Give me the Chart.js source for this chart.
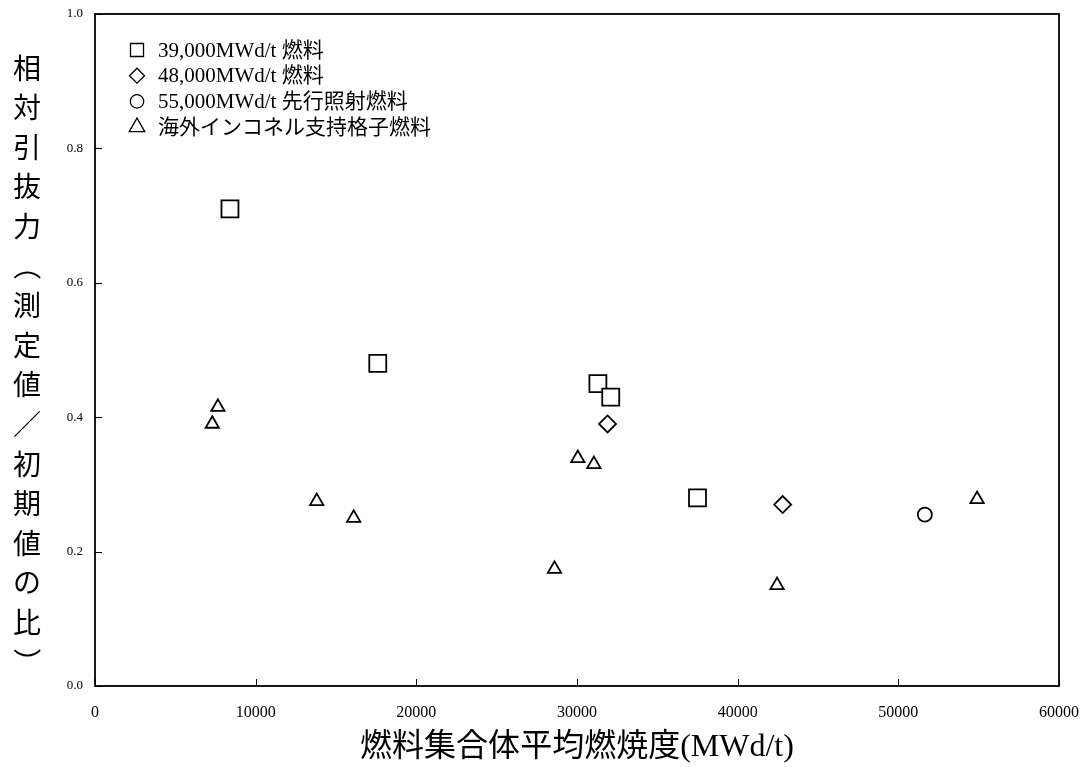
<!DOCTYPE html>
<html>
<head>
<meta charset="utf-8">
<script src="https://cdn.jsdelivr.net/npm/chart.js@4/dist/chart.umd.min.js"></script>
<style>
  body { margin: 0; background: #fff; }
  #wrap { width: 1088px; height: 767px; }
</style>
</head>
<body>
<div id="wrap"><canvas id="chart"></canvas></div>
<script>
// series labels (legend)
const seriesNames = ['39,000MWd/t 燃料', '48,000MWd/t 燃料', '55,000MWd/t 先行照射燃料', '海外インコネル支持格子燃料'];

// burnup (MWd/t) and relative pull-out force for each group
const burnup39 = [8400, 17600, 31300, 32100, 37500];
const force39 = [0.71, 0.48, 0.45, 0.43, 0.28];
const burnup48 = [31900, 42800];
const force48 = [0.39, 0.27];
const burnup55 = [51650];
const force55 = [0.255];
const burnupOverseas = [7650, 7300, 13800, 16100, 28600, 30050, 31050, 42450, 54900];
const forceOverseas = [0.415, 0.39, 0.275, 0.25, 0.174, 0.339, 0.33, 0.15, 0.278];

const xTicks = [0, 10000, 20000, 30000, 40000, 50000, 60000];
const yTicks = [0, 0.2, 0.4, 0.6, 0.8, 1.0];

const xTitle = '燃料集合体平均燃焼度(MWd/t)';
const yTitle = '相対引抜力（測定値／初期値の比）';

const serif = '"Liberation Serif", "DejaVu Serif", "Noto Sans CJK JP", serif';
const cjk = '"Noto Sans CJK JP", sans-serif';

function toPoints(xs, ys) {
  return xs.map((v, i) => ({ x: v, y: ys[i] }));
}

const markers = [
  { style: 'rect', r: 12, legendR: 9.2 },
  { style: 'rectRot', r: 8.5, legendR: 7.5 },
  { style: 'circle', r: 7, legendR: 6.7 },
  { style: 'triangle', r: 7.7, legendR: 9 }
];

const groups = [
  toPoints(burnup39, force39),
  toPoints(burnup48, force48),
  toPoints(burnup55, force55),
  toPoints(burnupOverseas, forceOverseas)
];

// box, inward tick marks, vertical y title and legend inside the plot
const extras = {
  id: 'extras',
  afterDraw(chart) {
    const { ctx, chartArea: a, scales: { x, y } } = chart;
    ctx.save();
    ctx.strokeStyle = '#000';
    ctx.lineWidth = 1.8;
    ctx.strokeRect(a.left, a.top, a.right - a.left, a.bottom - a.top);

    ctx.lineWidth = 1;
    ctx.beginPath();
    x.ticks.forEach(t => {
      const px = Math.round(x.getPixelForValue(t.value)) + 0.5;
      ctx.moveTo(px, a.bottom);
      ctx.lineTo(px, a.bottom - 7);
    });
    y.ticks.forEach(t => {
      const py = Math.round(y.getPixelForValue(t.value)) + 0.5;
      ctx.moveTo(a.left, py);
      ctx.lineTo(a.left + 7, py);
    });
    ctx.stroke();

    // vertical y title, one character per line
    ctx.fillStyle = '#000';
    ctx.font = '28px ' + cjk;
    ctx.textAlign = 'center';
    ctx.textBaseline = 'middle';
    Array.from(yTitle).forEach((ch, i) => {
      const cy = 68 + i * 39.6;
      if (ch === '（' || ch === '）') {
        ctx.save();
        ctx.translate(27, cy);
        ctx.rotate(Math.PI / 2);
        ctx.fillText(ch, 0, 0);
        ctx.restore();
      } else {
        ctx.fillText(ch, 27, cy);
      }
    });

    // legend
    ctx.font = '21px ' + serif;
    ctx.textAlign = 'left';
    chart.data.datasets.forEach((ds, i) => {
      const cy = 50 + i * 25.7;
      ctx.fillStyle = '#fff';
      ctx.strokeStyle = '#000';
      ctx.lineWidth = 1.3;
      Chart.helpers.drawPoint(ctx, {
        pointStyle: ds.pointStyle,
        radius: markers[i].legendR,
        borderWidth: 1.3,
        rotation: 0
      }, 137, cy);
      ctx.fillStyle = '#000';
      ctx.fillText(ds.label, 158, cy + 1);
    });
    ctx.restore();
  }
};

new Chart(document.getElementById('chart'), {
  type: 'scatter',
  data: {
    datasets: groups.map((pts, i) => ({
      label: seriesNames[i],
      data: pts,
      pointStyle: markers[i].style,
      pointRadius: markers[i].r,
      pointBorderWidth: 1.8,
      pointBorderColor: '#000',
      pointBackgroundColor: '#fff',
      showLine: false
    }))
  },
  options: {
    responsive: true,
    maintainAspectRatio: false,
    animation: false,
    events: [],
    layout: { padding: { top: 14, right: 29, left: 0, bottom: 0 } },
    plugins: {
      legend: { display: false },
      tooltip: { enabled: false }
    },
    scales: {
      x: {
        type: 'linear',
        min: 0,
        max: 60000,
        afterBuildTicks: s => { s.ticks = xTicks.map(v => ({ value: v })); },
        afterFit: s => { s.height = 81; s.paddingLeft = 0; s.paddingRight = 0; },
        grid: { display: false, drawTicks: false },
        border: { display: false },
        ticks: {
          padding: 17,
          color: '#000',
          font: { family: serif, size: 16 },
          callback: v => String(v)
        },
        title: {
          display: true,
          text: xTitle,
          color: '#000',
          font: { family: serif, size: 32 },
          padding: { top: 0, bottom: 0 }
        }
      },
      y: {
        type: 'linear',
        min: 0,
        max: 1,
        afterBuildTicks: s => { s.ticks = yTicks.map(v => ({ value: v })); },
        afterFit: s => { s.width = 95; s.paddingTop = 0; s.paddingBottom = 0; },
        grid: { display: false, drawTicks: false },
        border: { display: false },
        ticks: {
          padding: 12,
          color: '#000',
          font: { family: serif, size: 13 },
          callback: v => v.toFixed(1)
        }
      }
    }
  },
  plugins: [extras]
});
</script>
</body>
</html>
